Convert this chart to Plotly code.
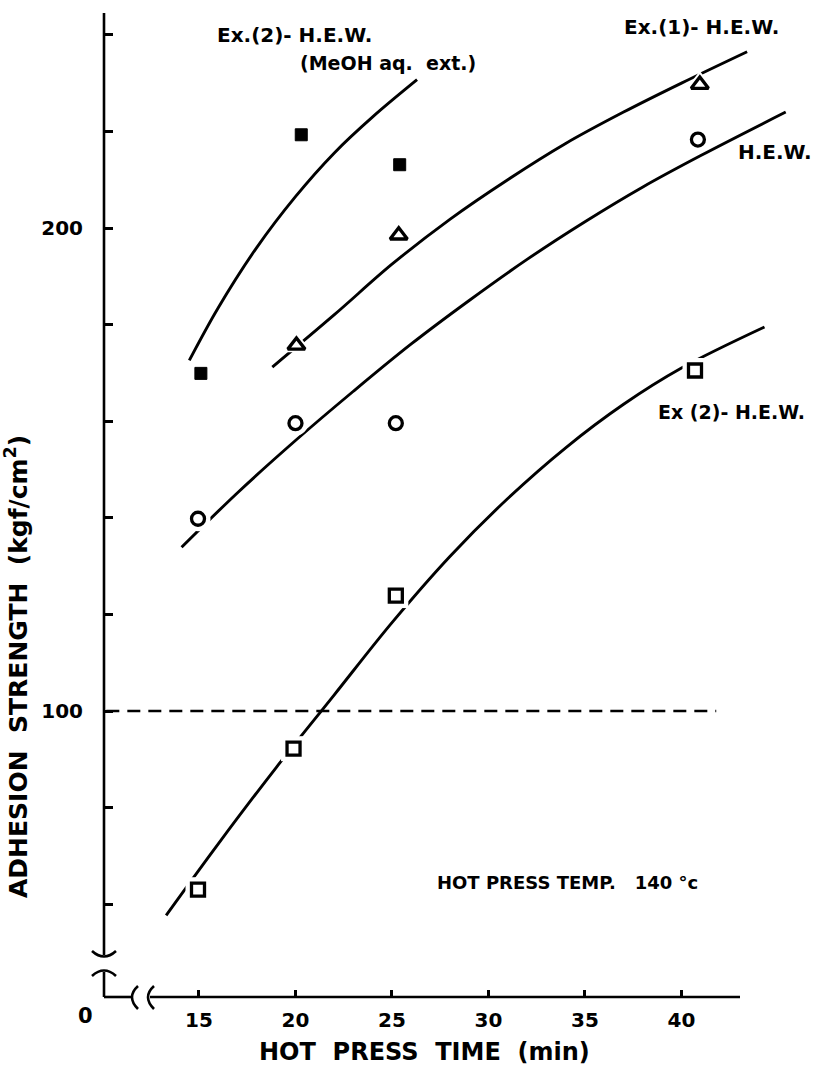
import plotly.graph_objects as go

# ---------------- data ----------------
# measured points
meoh_x = [15.1, 20.3, 25.4]
meoh_y = [169.9, 219.3, 213.1]
ex1_x = [20.05, 25.35, 40.95]
ex1_y = [175.7, 198.5, 229.7]
hew_x = [14.95, 20.0, 25.2, 40.85]
hew_y = [139.8, 159.6, 159.6, 218.3]
ex2_x = [14.95, 19.9, 25.2, 40.7]
ex2_y = [63.0, 92.2, 123.9, 170.5]

# hand-drawn fitted curves
meoh_cx = [14.5, 16.0, 18.0, 20.0, 22.0, 24.0, 26.3]
meoh_cy = [172.6, 183.5, 196.0, 206.5, 215.5, 223.0, 230.7]
ex1_cx = [18.8, 22.0, 25.0, 28.0, 31.0, 34.0, 37.0, 40.0, 43.4]
ex1_cy = [171.2, 182.0, 192.5, 201.8, 210.0, 217.5, 224.0, 230.0, 236.5]
hew_cx = [14.1, 17.0, 20.0, 23.0, 26.0, 29.0, 32.0, 35.0, 38.0, 41.0, 45.4]
hew_cy = [133.9, 145.2, 156.0, 166.2, 176.0, 185.0, 193.5, 201.3, 208.5, 215.0, 224.0]
ex2_cx = [13.3, 16.0, 19.0, 22.0, 25.0, 28.0, 31.0, 34.0, 37.0, 40.0, 44.3]
ex2_cy = [57.7, 72.5, 88.3, 103.3, 118.3, 132.0, 144.0, 154.5, 163.5, 171.0, 179.5]

# reference level
ref_level = 100
ref_x = [10.2, 41.8]

x_ticks = [15, 20, 25, 30, 35, 40]
y_labeled_ticks = [100, 200]
y_minor_ticks = [60, 80, 120, 140, 160, 180, 220, 240]

# ---------------- layout geometry (pixels) ----------------
W, H = 821, 1073
L, R, T, B = 104, 800, 5, 997
X_RANGE = [10.08, 46.14]
Y_RANGE = [40.79, 246.17]

def pxx(p):
    return (p - L) / (R - L)

def pyy(p):
    return (B - p) / (B - T)

FONT = "DejaVu Sans"
BLACK = "#000000"
NB = "\u00a0"

fig = go.Figure()

line_style = dict(color=BLACK, width=2.9, shape="spline", smoothing=1.0)
for cx, cy in [(meoh_cx, meoh_cy), (ex1_cx, ex1_cy), (hew_cx, hew_cy), (ex2_cx, ex2_cy)]:
    fig.add_trace(go.Scatter(x=cx, y=cy, mode="lines", line=line_style,
                             hoverinfo="skip", showlegend=False))

fig.add_trace(go.Scatter(x=ref_x, y=[ref_level, ref_level], mode="lines",
                         line=dict(color=BLACK, width=2.6, dash="13px,8px"),
                         hoverinfo="skip", showlegend=False))

series = [
    (meoh_x, meoh_y, "square", BLACK, 12, 1),
    (ex1_x, ex1_y, "triangle-up", "white", 15, 3.3),
    (hew_x, hew_y, "circle", "white", 13, 3.3),
    (ex2_x, ex2_y, "square", "white", 13, 3.3),
]
# white halos (gaps in the curves around the symbols)
for sx, sy, sym, fill, size, lwid in series:
    fig.add_trace(go.Scatter(x=sx, y=sy, mode="markers",
                             marker=dict(symbol=sym, size=size + 12, color="white",
                                         line=dict(width=0)),
                             hoverinfo="skip", showlegend=False))
for sx, sy, sym, fill, size, lwid in series:
    fig.add_trace(go.Scatter(x=sx, y=sy, mode="markers",
                             marker=dict(symbol=sym, size=size, color=fill,
                                         line=dict(color=BLACK, width=lwid)),
                             showlegend=False))

# ---------------- axes drawn by hand (with breaks) ----------------
shapes = []
lw = dict(color=BLACK, width=2.6)
# y axis: top part, break, bottom part
shapes.append(dict(type="line", xref="paper", yref="paper", x0=0, x1=0,
                   y0=pyy(955), y1=pyy(13), line=lw))
shapes.append(dict(type="line", xref="paper", yref="paper", x0=0, x1=0,
                   y0=pyy(997), y1=pyy(972), line=lw))
shapes.append(dict(type="path", xref="paper", yref="paper",
                   path=f"M {pxx(92)},{pyy(951)} Q {pxx(104)},{pyy(962)} {pxx(116)},{pyy(951)}",
                   line=lw))
shapes.append(dict(type="path", xref="paper", yref="paper",
                   path=f"M {pxx(92)},{pyy(976)} Q {pxx(104)},{pyy(965)} {pxx(116)},{pyy(976)}",
                   line=lw))
# x axis: short part, break, long part
shapes.append(dict(type="line", xref="paper", yref="paper", x0=0, x1=pxx(131),
                   y0=0, y1=0, line=lw))
shapes.append(dict(type="line", xref="paper", yref="paper", x0=pxx(150), x1=pxx(740),
                   y0=0, y1=0, line=lw))
shapes.append(dict(type="path", xref="paper", yref="paper",
                   path=f"M {pxx(138)},{pyy(986)} Q {pxx(126)},{pyy(997)} {pxx(138)},{pyy(1009)}",
                   line=lw))
shapes.append(dict(type="path", xref="paper", yref="paper",
                   path=f"M {pxx(154)},{pyy(986)} Q {pxx(142)},{pyy(997)} {pxx(154)},{pyy(1009)}",
                   line=lw))

annotations = []
def label(text, x, y, size, xanchor="left", xref="x", yref="y", angle=0):
    annotations.append(dict(text=text, x=x, y=y, xref=xref, yref=yref,
                            xanchor=xanchor, yanchor="middle", showarrow=False,
                            textangle=angle,
                            font=dict(family=FONT, size=size, color=BLACK)))

label("<b>Ex.(2)- H.E.W.</b>", 15.83, 239.96, 20)
label(f"<b>(MeOH aq.{NB}{NB}ext.)</b>", 20.13, 234.2, 19)
label("<b>Ex.(1)- H.E.W.</b>", 36.92, 241.6, 20)
label("<b>H.E.W.</b>", 42.8, 215.7, 20)
label("<b>Ex (2)- H.E.W.</b>", 38.7, 161.9, 19)
label(f"<b>HOT PRESS TEMP.{NB}{NB}{NB}140 °c</b>", 27.23, 64.6, 18)
label("<b>0</b>", pxx(85), pyy(1016), 21, xanchor="center", xref="paper", yref="paper")
label(f"<b>HOT{NB}{NB}PRESS{NB}{NB}TIME{NB}{NB}(min)</b>", pxx(424), pyy(1052), 24,
      xanchor="center", xref="paper", yref="paper")
label(f"<b>ADHESION{NB}{NB}STRENGTH{NB}{NB}(kgf/cm<sup>2</sup>)</b>", pxx(16), pyy(667), 25,
      xanchor="center", xref="paper", yref="paper", angle=-90)

fig.update_layout(
    width=W, height=H,
    margin=dict(l=L, r=W - R, t=T, b=H - B, pad=0),
    paper_bgcolor="white", plot_bgcolor="white",
    shapes=shapes, annotations=annotations,
    xaxis=dict(range=X_RANGE, showline=False, showgrid=False, zeroline=False,
               tickmode="array", tickvals=x_ticks,
               ticktext=[f"<b>{v}</b>" for v in x_ticks],
               ticks="inside", ticklen=7, tickwidth=2.5, tickcolor=BLACK,
               ticklabelstandoff=9,
               tickfont=dict(family=FONT, size=20, color=BLACK)),
    yaxis=dict(range=Y_RANGE, showline=False, showgrid=False, zeroline=False,
               tickmode="array", tickvals=y_labeled_ticks,
               ticktext=[f"<b>{v}</b>" for v in y_labeled_ticks],
               ticks="inside", ticklen=9, tickwidth=2.5, tickcolor=BLACK,
               ticklabelstandoff=20,
               tickfont=dict(family=FONT, size=20, color=BLACK),
               minor=dict(tickmode="array", tickvals=y_minor_ticks, ticks="inside",
                          ticklen=9, tickwidth=2.5, tickcolor=BLACK, showgrid=False)),
    showlegend=False,
)

fig.write_html("out.html")
